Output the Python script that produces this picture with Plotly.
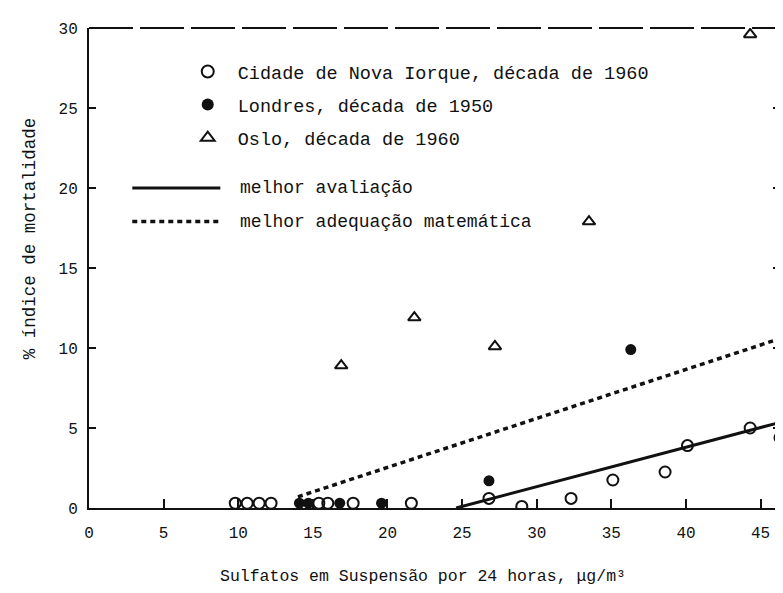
import plotly.graph_objects as go

# --- data ---
ny_x = [9.8, 10.6, 11.4, 12.2, 15.4, 16.0, 17.7, 21.6, 26.8, 29.0, 32.3, 35.1, 38.6, 40.1, 44.3, 46.3]
ny_y = [0.3, 0.3, 0.3, 0.3, 0.3, 0.3, 0.3, 0.3, 0.6, 0.1, 0.6, 1.75, 2.25, 3.9, 5.0, 4.4]

lon_x = [14.1, 14.7, 16.8, 19.6, 26.8, 36.3]
lon_y = [0.3, 0.3, 0.3, 0.3, 1.7, 9.9]

oslo_x = [16.9, 21.8, 27.2, 33.5, 44.3]
oslo_y = [8.9, 11.9, 10.1, 17.9, 29.6]

best_est_x = [24.6, 46.5]
best_est_y = [0.0, 5.4]

best_fit_x = [14.0, 46.5]
best_fit_y = [0.7, 10.65]

x_ticks = [0, 5, 10, 15, 20, 25, 30, 35, 40, 45]
y_ticks = [0, 5, 10, 15, 20, 25, 30]

legend_names = [
    "Cidade de Nova Iorque, década de 1960",
    "Londres, década de 1950",
    "Oslo, década de 1960",
]
line_names = ["melhor avaliação", "melhor adequação matemática"]
x_title = "Sulfatos em Suspensão por 24 horas, μg/m³"
y_title = "% índice de mortalidade"

FONT = "Liberation Mono"
INK = "#111111"

# page offset (body margin) compensation; keep page within the window (no scrollbars)
OFF = 8
L, R, T = 89 - OFF, 1, 28 - OFF
W, H = 783 - OFF, 593 - 2 * OFF
B = (OFF + H) - 508
PW = W - L - R          # plot width in px
PH = H - T - B          # plot height in px

fig = go.Figure()

fig.add_trace(go.Scatter(
    x=best_fit_x, y=best_fit_y, mode="lines", showlegend=False,
    line=dict(color=INK, width=3.5, dash="5px,4px"), hoverinfo="skip"))
fig.add_trace(go.Scatter(
    x=best_est_x, y=best_est_y, mode="lines", showlegend=False,
    line=dict(color=INK, width=3), hoverinfo="skip"))

fig.add_trace(go.Scatter(
    x=ny_x, y=ny_y, mode="markers", name=legend_names[0], legendgroup="a",
    marker=dict(symbol="circle-open", size=11, color=INK, line=dict(width=2, color=INK))))
fig.add_trace(go.Scatter(
    x=lon_x, y=lon_y, mode="markers", name=legend_names[1], legendgroup="b",
    marker=dict(symbol="circle", size=11, color=INK)))
fig.add_trace(go.Scatter(
    x=oslo_x, y=oslo_y, mode="markers", name=legend_names[2], legendgroup="c",
    marker=dict(symbol="triangle-up-open", size=11, color=INK, line=dict(width=2, color=INK))))

# manual legend for the two lines (long line samples as in the reference)
leg_y = [20.0, 17.9]
leg_dash = ["solid", "5px,4px"]
leg_w = [3, 3.5]
for yy, dsh, w, name in zip(leg_y, leg_dash, leg_w, line_names):
    fig.add_shape(type="line", x0=2.9, x1=8.8, y0=yy, y1=yy, xref="x", yref="y",
                  line=dict(color=INK, width=w, dash=dsh))
    fig.add_annotation(x=10.0, y=yy, xref="x", yref="y", text=name, showarrow=False,
                       xanchor="left", yanchor="middle",
                       font=dict(family=FONT, size=18, color=INK))

# broken top frame line, as in the scanned reference
fig.add_shape(type="line", x0=0, x1=1, y0=1, y1=1, xref="paper", yref="paper",
              line=dict(color=INK, width=2, dash="44px,7px"))

# y-axis title placed as in the reference (pixel position 30, 238)
fig.add_annotation(x=(30 - 89) / PW, y=(508 - 238) / PH, xref="paper", yref="paper",
                   text=y_title, showarrow=False, textangle=-90,
                   xanchor="center", yanchor="middle",
                   font=dict(family=FONT, size=17.5, color=INK))

fig.update_layout(
    width=W, height=H,
    margin=dict(l=L, r=R, t=T, b=B),
    paper_bgcolor="white", plot_bgcolor="white",
    font=dict(family=FONT, size=15, color=INK),
    legend=dict(x=(178 - 89) / PW, y=(508 - 53) / PH, xanchor="left", yanchor="top",
                bgcolor="rgba(0,0,0,0)", font=dict(family=FONT, size=18.5, color=INK),
                tracegroupgap=6, itemsizing="constant", itemwidth=50),
    xaxis=dict(range=[0, 46.3], tickvals=x_ticks, ticks="inside", ticklen=9, tickwidth=2,
               tickcolor=INK, showline=True, linecolor=INK, linewidth=2, mirror=False,
               showgrid=False, zeroline=False, ticklabelstandoff=9,
               tickfont=dict(family=FONT, size=16, color=INK)),
    yaxis=dict(range=[0, 30], tickvals=y_ticks, ticks="inside", ticklen=7, tickwidth=2,
               tickcolor=INK, showline=True, linecolor=INK, linewidth=2, mirror="ticks",
               showgrid=False, zeroline=False, ticklabelstandoff=6,
               tickfont=dict(family=FONT, size=16, color=INK)),
)

# x-axis title positioned as in the reference (centre 424, 576)
fig.add_annotation(x=(424 - 89) / PW, y=-(576 - 508) / PH, xref="paper", yref="paper",
                   text=x_title, showarrow=False, xanchor="center", yanchor="middle",
                   font=dict(family=FONT, size=16.5, color=INK))

fig.write_html("out.html")
